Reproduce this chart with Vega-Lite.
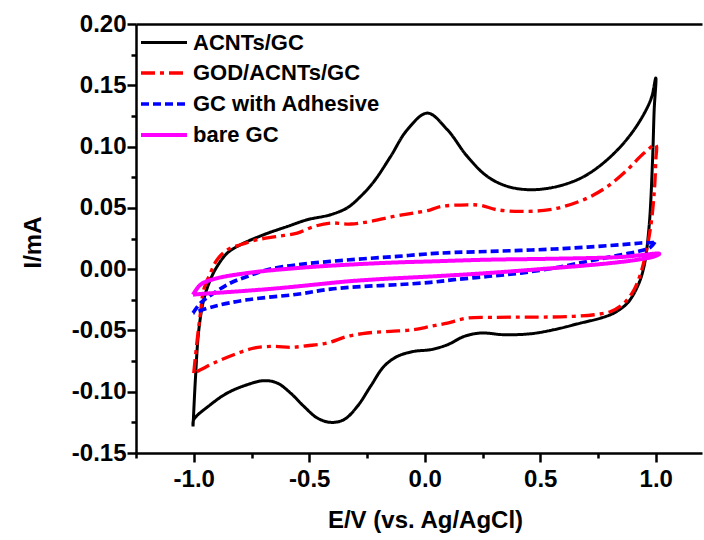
{
  "$schema": "https://vega.github.io/schema/vega-lite/v6.json",
  "width": 566,
  "height": 429,
  "autosize": {"type": "none"},
  "padding": {"left": 136, "top": 24, "right": 2, "bottom": 87},
  "background": "white",
  "config": {
    "font": "Liberation Sans",
    "view": {"stroke": null},
    "axis": {
      "grid": false,
      "domainColor": "black",
      "tickColor": "black",
      "labelColor": "black",
      "titleColor": "black",
      "domainWidth": 2.5,
      "tickWidth": 2.5,
      "labelFontSize": 24,
      "labelFontWeight": "bold",
      "titleFontSize": 24,
      "titleFontWeight": "bold"
    }
  },
  "data": {
    "values": [
      {"s": "ACNTs/GC", "i": 1, "E": -1.003, "I": -0.1283},
      {"s": "ACNTs/GC", "i": 2, "E": -0.993, "I": -0.0902},
      {"s": "ACNTs/GC", "i": 3, "E": -0.978, "I": -0.0494},
      {"s": "ACNTs/GC", "i": 4, "E": -0.957, "I": -0.025},
      {"s": "ACNTs/GC", "i": 5, "E": -0.928, "I": -0.0086},
      {"s": "ACNTs/GC", "i": 6, "E": -0.899, "I": 0.0022},
      {"s": "ACNTs/GC", "i": 7, "E": -0.855, "I": 0.0131},
      {"s": "ACNTs/GC", "i": 8, "E": -0.798, "I": 0.0199},
      {"s": "ACNTs/GC", "i": 9, "E": -0.697, "I": 0.0281},
      {"s": "ACNTs/GC", "i": 10, "E": -0.595, "I": 0.0348},
      {"s": "ACNTs/GC", "i": 11, "E": -0.509, "I": 0.0403},
      {"s": "ACNTs/GC", "i": 12, "E": -0.408, "I": 0.0444},
      {"s": "ACNTs/GC", "i": 13, "E": -0.335, "I": 0.0501},
      {"s": "ACNTs/GC", "i": 14, "E": -0.278, "I": 0.0593},
      {"s": "ACNTs/GC", "i": 15, "E": -0.22, "I": 0.0715},
      {"s": "ACNTs/GC", "i": 16, "E": -0.148, "I": 0.0919},
      {"s": "ACNTs/GC", "i": 17, "E": -0.076, "I": 0.1137},
      {"s": "ACNTs/GC", "i": 18, "E": 0.011, "I": 0.1273},
      {"s": "ACNTs/GC", "i": 19, "E": 0.098, "I": 0.1137},
      {"s": "ACNTs/GC", "i": 20, "E": 0.184, "I": 0.0919},
      {"s": "ACNTs/GC", "i": 21, "E": 0.271, "I": 0.0756},
      {"s": "ACNTs/GC", "i": 22, "E": 0.358, "I": 0.0675},
      {"s": "ACNTs/GC", "i": 23, "E": 0.459, "I": 0.0648},
      {"s": "ACNTs/GC", "i": 24, "E": 0.574, "I": 0.0675},
      {"s": "ACNTs/GC", "i": 25, "E": 0.689, "I": 0.0756},
      {"s": "ACNTs/GC", "i": 26, "E": 0.805, "I": 0.0919},
      {"s": "ACNTs/GC", "i": 27, "E": 0.906, "I": 0.1137},
      {"s": "ACNTs/GC", "i": 28, "E": 0.978, "I": 0.1382},
      {"s": "ACNTs/GC", "i": 29, "E": 1.0, "I": 0.156},
      {"s": "ACNTs/GC", "i": 30, "E": 0.993, "I": 0.13},
      {"s": "ACNTs/GC", "i": 31, "E": 0.986, "I": 0.0892},
      {"s": "ACNTs/GC", "i": 32, "E": 0.971, "I": 0.0348},
      {"s": "ACNTs/GC", "i": 33, "E": 0.949, "I": 0.0022},
      {"s": "ACNTs/GC", "i": 34, "E": 0.921, "I": -0.0141},
      {"s": "ACNTs/GC", "i": 35, "E": 0.877, "I": -0.0277},
      {"s": "ACNTs/GC", "i": 36, "E": 0.819, "I": -0.0358},
      {"s": "ACNTs/GC", "i": 37, "E": 0.762, "I": -0.0399},
      {"s": "ACNTs/GC", "i": 38, "E": 0.675, "I": -0.044},
      {"s": "ACNTs/GC", "i": 39, "E": 0.559, "I": -0.0494},
      {"s": "ACNTs/GC", "i": 40, "E": 0.459, "I": -0.0527},
      {"s": "ACNTs/GC", "i": 41, "E": 0.343, "I": -0.0535},
      {"s": "ACNTs/GC", "i": 42, "E": 0.242, "I": -0.0521},
      {"s": "ACNTs/GC", "i": 43, "E": 0.17, "I": -0.0549},
      {"s": "ACNTs/GC", "i": 44, "E": 0.098, "I": -0.0617},
      {"s": "ACNTs/GC", "i": 45, "E": 0.025, "I": -0.0657},
      {"s": "ACNTs/GC", "i": 46, "E": -0.047, "I": -0.0671},
      {"s": "ACNTs/GC", "i": 47, "E": -0.119, "I": -0.0712},
      {"s": "ACNTs/GC", "i": 48, "E": -0.177, "I": -0.0794},
      {"s": "ACNTs/GC", "i": 49, "E": -0.235, "I": -0.0957},
      {"s": "ACNTs/GC", "i": 50, "E": -0.292, "I": -0.112},
      {"s": "ACNTs/GC", "i": 51, "E": -0.35, "I": -0.1228},
      {"s": "ACNTs/GC", "i": 52, "E": -0.408, "I": -0.125},
      {"s": "ACNTs/GC", "i": 53, "E": -0.465, "I": -0.1215},
      {"s": "ACNTs/GC", "i": 54, "E": -0.523, "I": -0.112},
      {"s": "ACNTs/GC", "i": 55, "E": -0.581, "I": -0.1011},
      {"s": "ACNTs/GC", "i": 56, "E": -0.639, "I": -0.0929},
      {"s": "ACNTs/GC", "i": 57, "E": -0.697, "I": -0.091},
      {"s": "ACNTs/GC", "i": 58, "E": -0.769, "I": -0.0943},
      {"s": "ACNTs/GC", "i": 59, "E": -0.855, "I": -0.1011},
      {"s": "ACNTs/GC", "i": 60, "E": -0.928, "I": -0.1106},
      {"s": "ACNTs/GC", "i": 61, "E": -1.0, "I": -0.1228},
      {"s": "ACNTs/GC", "i": 62, "E": -1.003, "I": -0.1283},

      {"s": "GOD/ACNTs/GC", "i": 1, "E": -1.0, "I": -0.0848},
      {"s": "GOD/ACNTs/GC", "i": 2, "E": -0.985, "I": -0.0576},
      {"s": "GOD/ACNTs/GC", "i": 3, "E": -0.971, "I": -0.0358},
      {"s": "GOD/ACNTs/GC", "i": 4, "E": -0.957, "I": -0.0168},
      {"s": "GOD/ACNTs/GC", "i": 5, "E": -0.928, "I": -0.0032},
      {"s": "GOD/ACNTs/GC", "i": 6, "E": -0.899, "I": 0.0077},
      {"s": "GOD/ACNTs/GC", "i": 7, "E": -0.855, "I": 0.0158},
      {"s": "GOD/ACNTs/GC", "i": 8, "E": -0.798, "I": 0.0199},
      {"s": "GOD/ACNTs/GC", "i": 9, "E": -0.725, "I": 0.024},
      {"s": "GOD/ACNTs/GC", "i": 10, "E": -0.639, "I": 0.0267},
      {"s": "GOD/ACNTs/GC", "i": 11, "E": -0.552, "I": 0.0294},
      {"s": "GOD/ACNTs/GC", "i": 12, "E": -0.48, "I": 0.0348},
      {"s": "GOD/ACNTs/GC", "i": 13, "E": -0.408, "I": 0.0376},
      {"s": "GOD/ACNTs/GC", "i": 14, "E": -0.321, "I": 0.0368},
      {"s": "GOD/ACNTs/GC", "i": 15, "E": -0.235, "I": 0.0389},
      {"s": "GOD/ACNTs/GC", "i": 16, "E": -0.134, "I": 0.043},
      {"s": "GOD/ACNTs/GC", "i": 17, "E": -0.047, "I": 0.0458},
      {"s": "GOD/ACNTs/GC", "i": 18, "E": 0.025, "I": 0.0484},
      {"s": "GOD/ACNTs/GC", "i": 19, "E": 0.069, "I": 0.0511},
      {"s": "GOD/ACNTs/GC", "i": 20, "E": 0.184, "I": 0.0525},
      {"s": "GOD/ACNTs/GC", "i": 21, "E": 0.242, "I": 0.052},
      {"s": "GOD/ACNTs/GC", "i": 22, "E": 0.314, "I": 0.0484},
      {"s": "GOD/ACNTs/GC", "i": 23, "E": 0.415, "I": 0.0471},
      {"s": "GOD/ACNTs/GC", "i": 24, "E": 0.516, "I": 0.0479},
      {"s": "GOD/ACNTs/GC", "i": 25, "E": 0.603, "I": 0.0511},
      {"s": "GOD/ACNTs/GC", "i": 26, "E": 0.704, "I": 0.058},
      {"s": "GOD/ACNTs/GC", "i": 27, "E": 0.791, "I": 0.0675},
      {"s": "GOD/ACNTs/GC", "i": 28, "E": 0.877, "I": 0.0811},
      {"s": "GOD/ACNTs/GC", "i": 29, "E": 0.949, "I": 0.0947},
      {"s": "GOD/ACNTs/GC", "i": 30, "E": 1.0, "I": 0.1015},
      {"s": "GOD/ACNTs/GC", "i": 31, "E": 1.0, "I": 0.0892},
      {"s": "GOD/ACNTs/GC", "i": 32, "E": 0.993, "I": 0.0621},
      {"s": "GOD/ACNTs/GC", "i": 33, "E": 0.978, "I": 0.0348},
      {"s": "GOD/ACNTs/GC", "i": 34, "E": 0.957, "I": 0.0131},
      {"s": "GOD/ACNTs/GC", "i": 35, "E": 0.935, "I": -0.0032},
      {"s": "GOD/ACNTs/GC", "i": 36, "E": 0.906, "I": -0.0168},
      {"s": "GOD/ACNTs/GC", "i": 37, "E": 0.863, "I": -0.0277},
      {"s": "GOD/ACNTs/GC", "i": 38, "E": 0.805, "I": -0.0345},
      {"s": "GOD/ACNTs/GC", "i": 39, "E": 0.733, "I": -0.0372},
      {"s": "GOD/ACNTs/GC", "i": 40, "E": 0.632, "I": -0.0386},
      {"s": "GOD/ACNTs/GC", "i": 41, "E": 0.516, "I": -0.0391},
      {"s": "GOD/ACNTs/GC", "i": 42, "E": 0.415, "I": -0.0391},
      {"s": "GOD/ACNTs/GC", "i": 43, "E": 0.314, "I": -0.0394},
      {"s": "GOD/ACNTs/GC", "i": 44, "E": 0.184, "I": -0.0399},
      {"s": "GOD/ACNTs/GC", "i": 45, "E": 0.098, "I": -0.044},
      {"s": "GOD/ACNTs/GC", "i": 46, "E": 0.025, "I": -0.0467},
      {"s": "GOD/ACNTs/GC", "i": 47, "E": -0.047, "I": -0.0494},
      {"s": "GOD/ACNTs/GC", "i": 48, "E": -0.148, "I": -0.0508},
      {"s": "GOD/ACNTs/GC", "i": 49, "E": -0.249, "I": -0.0521},
      {"s": "GOD/ACNTs/GC", "i": 50, "E": -0.335, "I": -0.0549},
      {"s": "GOD/ACNTs/GC", "i": 51, "E": -0.422, "I": -0.0603},
      {"s": "GOD/ACNTs/GC", "i": 52, "E": -0.509, "I": -0.0625},
      {"s": "GOD/ACNTs/GC", "i": 53, "E": -0.581, "I": -0.0638},
      {"s": "GOD/ACNTs/GC", "i": 54, "E": -0.653, "I": -0.063},
      {"s": "GOD/ACNTs/GC", "i": 55, "E": -0.74, "I": -0.0644},
      {"s": "GOD/ACNTs/GC", "i": 56, "E": -0.827, "I": -0.0698},
      {"s": "GOD/ACNTs/GC", "i": 57, "E": -0.913, "I": -0.0766},
      {"s": "GOD/ACNTs/GC", "i": 58, "E": -0.971, "I": -0.0821},
      {"s": "GOD/ACNTs/GC", "i": 59, "E": -1.0, "I": -0.0848},

      {"s": "GC with Adhesive", "i": 1, "E": -1.003, "I": -0.0358},
      {"s": "GC with Adhesive", "i": 2, "E": -0.971, "I": -0.0277},
      {"s": "GC with Adhesive", "i": 3, "E": -0.913, "I": -0.0195},
      {"s": "GC with Adhesive", "i": 4, "E": -0.841, "I": -0.0113},
      {"s": "GC with Adhesive", "i": 5, "E": -0.769, "I": -0.006},
      {"s": "GC with Adhesive", "i": 6, "E": -0.682, "I": -0.0005},
      {"s": "GC with Adhesive", "i": 7, "E": -0.552, "I": 0.0036},
      {"s": "GC with Adhesive", "i": 8, "E": -0.408, "I": 0.0063},
      {"s": "GC with Adhesive", "i": 9, "E": -0.264, "I": 0.0085},
      {"s": "GC with Adhesive", "i": 10, "E": -0.119, "I": 0.0104},
      {"s": "GC with Adhesive", "i": 11, "E": 0.025, "I": 0.0126},
      {"s": "GC with Adhesive", "i": 12, "E": 0.126, "I": 0.0136},
      {"s": "GC with Adhesive", "i": 13, "E": 0.271, "I": 0.0144},
      {"s": "GC with Adhesive", "i": 14, "E": 0.415, "I": 0.0153},
      {"s": "GC with Adhesive", "i": 15, "E": 0.559, "I": 0.0164},
      {"s": "GC with Adhesive", "i": 16, "E": 0.704, "I": 0.018},
      {"s": "GC with Adhesive", "i": 17, "E": 0.848, "I": 0.0199},
      {"s": "GC with Adhesive", "i": 18, "E": 0.935, "I": 0.0213},
      {"s": "GC with Adhesive", "i": 19, "E": 0.993, "I": 0.022},
      {"s": "GC with Adhesive", "i": 20, "E": 1.0, "I": 0.0233},
      {"s": "GC with Adhesive", "i": 21, "E": 0.978, "I": 0.018},
      {"s": "GC with Adhesive", "i": 22, "E": 0.935, "I": 0.015},
      {"s": "GC with Adhesive", "i": 23, "E": 0.848, "I": 0.0117},
      {"s": "GC with Adhesive", "i": 24, "E": 0.704, "I": 0.0063},
      {"s": "GC with Adhesive", "i": 25, "E": 0.559, "I": 0.0009},
      {"s": "GC with Adhesive", "i": 26, "E": 0.415, "I": -0.0032},
      {"s": "GC with Adhesive", "i": 27, "E": 0.271, "I": -0.006},
      {"s": "GC with Adhesive", "i": 28, "E": 0.126, "I": -0.0086},
      {"s": "GC with Adhesive", "i": 29, "E": 0.025, "I": -0.0108},
      {"s": "GC with Adhesive", "i": 30, "E": -0.119, "I": -0.0127},
      {"s": "GC with Adhesive", "i": 31, "E": -0.264, "I": -0.0141},
      {"s": "GC with Adhesive", "i": 32, "E": -0.408, "I": -0.0163},
      {"s": "GC with Adhesive", "i": 33, "E": -0.552, "I": -0.0205},
      {"s": "GC with Adhesive", "i": 34, "E": -0.769, "I": -0.025},
      {"s": "GC with Adhesive", "i": 35, "E": -0.913, "I": -0.0304},
      {"s": "GC with Adhesive", "i": 36, "E": -1.003, "I": -0.0358},

      {"s": "bare GC", "i": 1, "E": -1.003, "I": -0.0209},
      {"s": "bare GC", "i": 2, "E": -0.971, "I": -0.0127},
      {"s": "bare GC", "i": 3, "E": -0.913, "I": -0.0081},
      {"s": "bare GC", "i": 4, "E": -0.769, "I": -0.0032},
      {"s": "bare GC", "i": 5, "E": -0.552, "I": 0.0009},
      {"s": "bare GC", "i": 6, "E": -0.335, "I": 0.0036},
      {"s": "bare GC", "i": 7, "E": -0.119, "I": 0.0055},
      {"s": "bare GC", "i": 8, "E": 0.025, "I": 0.0063},
      {"s": "bare GC", "i": 9, "E": 0.271, "I": 0.0077},
      {"s": "bare GC", "i": 10, "E": 0.559, "I": 0.0085},
      {"s": "bare GC", "i": 11, "E": 0.848, "I": 0.0099},
      {"s": "bare GC", "i": 12, "E": 1.015, "I": 0.0125},
      {"s": "bare GC", "i": 13, "E": 0.993, "I": 0.0104},
      {"s": "bare GC", "i": 14, "E": 0.921, "I": 0.0077},
      {"s": "bare GC", "i": 15, "E": 0.776, "I": 0.0044},
      {"s": "bare GC", "i": 16, "E": 0.559, "I": 0.0009},
      {"s": "bare GC", "i": 17, "E": 0.271, "I": -0.0032},
      {"s": "bare GC", "i": 18, "E": 0.025, "I": -0.006},
      {"s": "bare GC", "i": 19, "E": -0.191, "I": -0.0081},
      {"s": "bare GC", "i": 20, "E": -0.335, "I": -0.01},
      {"s": "bare GC", "i": 21, "E": -0.48, "I": -0.0127},
      {"s": "bare GC", "i": 22, "E": -0.625, "I": -0.0154},
      {"s": "bare GC", "i": 23, "E": -0.769, "I": -0.0176},
      {"s": "bare GC", "i": 24, "E": -0.913, "I": -0.0195},
      {"s": "bare GC", "i": 25, "E": -0.985, "I": -0.0205},
      {"s": "bare GC", "i": 26, "E": -1.003, "I": -0.0209}
    ]
  },
  "layer": [
    {
      "mark": {"type": "line", "interpolate": "catmull-rom", "clip": true},
      "encoding": {
        "x": {
          "field": "E", "type": "quantitative",
          "scale": {"domain": [-1.25, 1.2], "nice": false, "zero": false},
          "axis": {
            "orient": "bottom",
            "values": [-1, -0.5, 0, 0.5, 1],
            "tickSize": 9,
            "labelPadding": 5,
            "labelExpr": "(datum.value < 0 ? '-' : '') + format(abs(datum.value), '.1f')",
            "title": "E/V (vs. Ag/AgCl)",
            "titleX": 289,
            "titleY": 67,
            "titleAlign": "center",
            "titleBaseline": "middle"
          }
        },
        "y": {
          "field": "I", "type": "quantitative",
          "scale": {"domain": [-0.15, 0.2], "nice": false, "zero": false},
          "axis": {
            "orient": "left",
            "values": [-0.15, -0.1, -0.05, 0, 0.05, 0.1, 0.15, 0.2],
            "tickSize": 9,
            "labelPadding": 1,
            "labelExpr": "(datum.value < -0.0001 ? '-' : '') + format(abs(datum.value), '.2f')",
            "title": "I/mA",
            "titleX": -103,
            "titleY": 218,
            "titleAlign": "center",
            "titleBaseline": "middle"
          }
        },
        "color": {
          "field": "s", "type": "nominal",
          "scale": {
            "domain": ["ACNTs/GC", "GOD/ACNTs/GC", "GC with Adhesive", "bare GC"],
            "range": ["#000000", "#ff0000", "#0000ff", "#ff00ff"]
          },
          "legend": {
            "title": null,
            "orient": "none",
            "legendX": 14.5,
            "legendY": 5.5,
            "padding": 0,
            "symbolType": "M-2,0H2",
            "symbolSize": 529,
            "symbolStrokeWidth": 3,
            "labelOffset": 15.5,
            "rowPadding": 6,
            "labelFontSize": 22,
            "labelFontWeight": "bold",
            "labelColor": "black",
            "labelLimit": 0
          }
        },
        "strokeDash": {
          "field": "s", "type": "nominal",
          "scale": {
            "domain": ["ACNTs/GC", "GOD/ACNTs/GC", "GC with Adhesive", "bare GC"],
            "range": [[1, 0], [14, 5, 4, 5], [8, 4], [1, 0]]
          },
          "legend": {
            "title": null,
            "orient": "none",
            "legendX": 14.5,
            "legendY": 5.5,
            "padding": 0,
            "symbolType": "M-2,0H2",
            "symbolSize": 529,
            "symbolStrokeWidth": 3,
            "labelOffset": 15.5,
            "rowPadding": 6,
            "labelFontSize": 22,
            "labelFontWeight": "bold",
            "labelColor": "black",
            "labelLimit": 0
          }
        },
        "strokeWidth": {
          "field": "s", "type": "nominal",
          "scale": {
            "domain": ["ACNTs/GC", "GOD/ACNTs/GC", "GC with Adhesive", "bare GC"],
            "range": [3, 4, 4, 3]
          },
          "legend": null
        },
        "order": {"field": "i", "type": "quantitative"}
      }
    },
    {
      "mark": {"type": "point", "opacity": 0},
      "encoding": {
        "x": {
          "field": "E", "type": "quantitative",
          "axis": {
            "orient": "bottom",
            "values": [-1.25, -0.75, -0.25, 0.25, 0.75],
            "tickSize": 5,
            "labels": false,
            "domain": false,
            "title": null
          }
        },
        "y": {
          "field": "I", "type": "quantitative",
          "axis": {
            "orient": "left",
            "values": [-0.125, -0.075, -0.025, 0.025, 0.075, 0.125, 0.175],
            "tickSize": 5,
            "labels": false,
            "domain": false,
            "title": null
          }
        }
      }
    },
    {
      "mark": {"type": "point", "opacity": 0},
      "encoding": {
        "x": {
          "field": "E", "type": "quantitative",
          "axis": {
            "orient": "top",
            "ticks": false,
            "labels": false,
            "title": null
          }
        },
        "y": {"field": "I", "type": "quantitative", "axis": null}
      }
    }
  ],
  "resolve": {"axis": {"x": "independent", "y": "independent"}}
}
